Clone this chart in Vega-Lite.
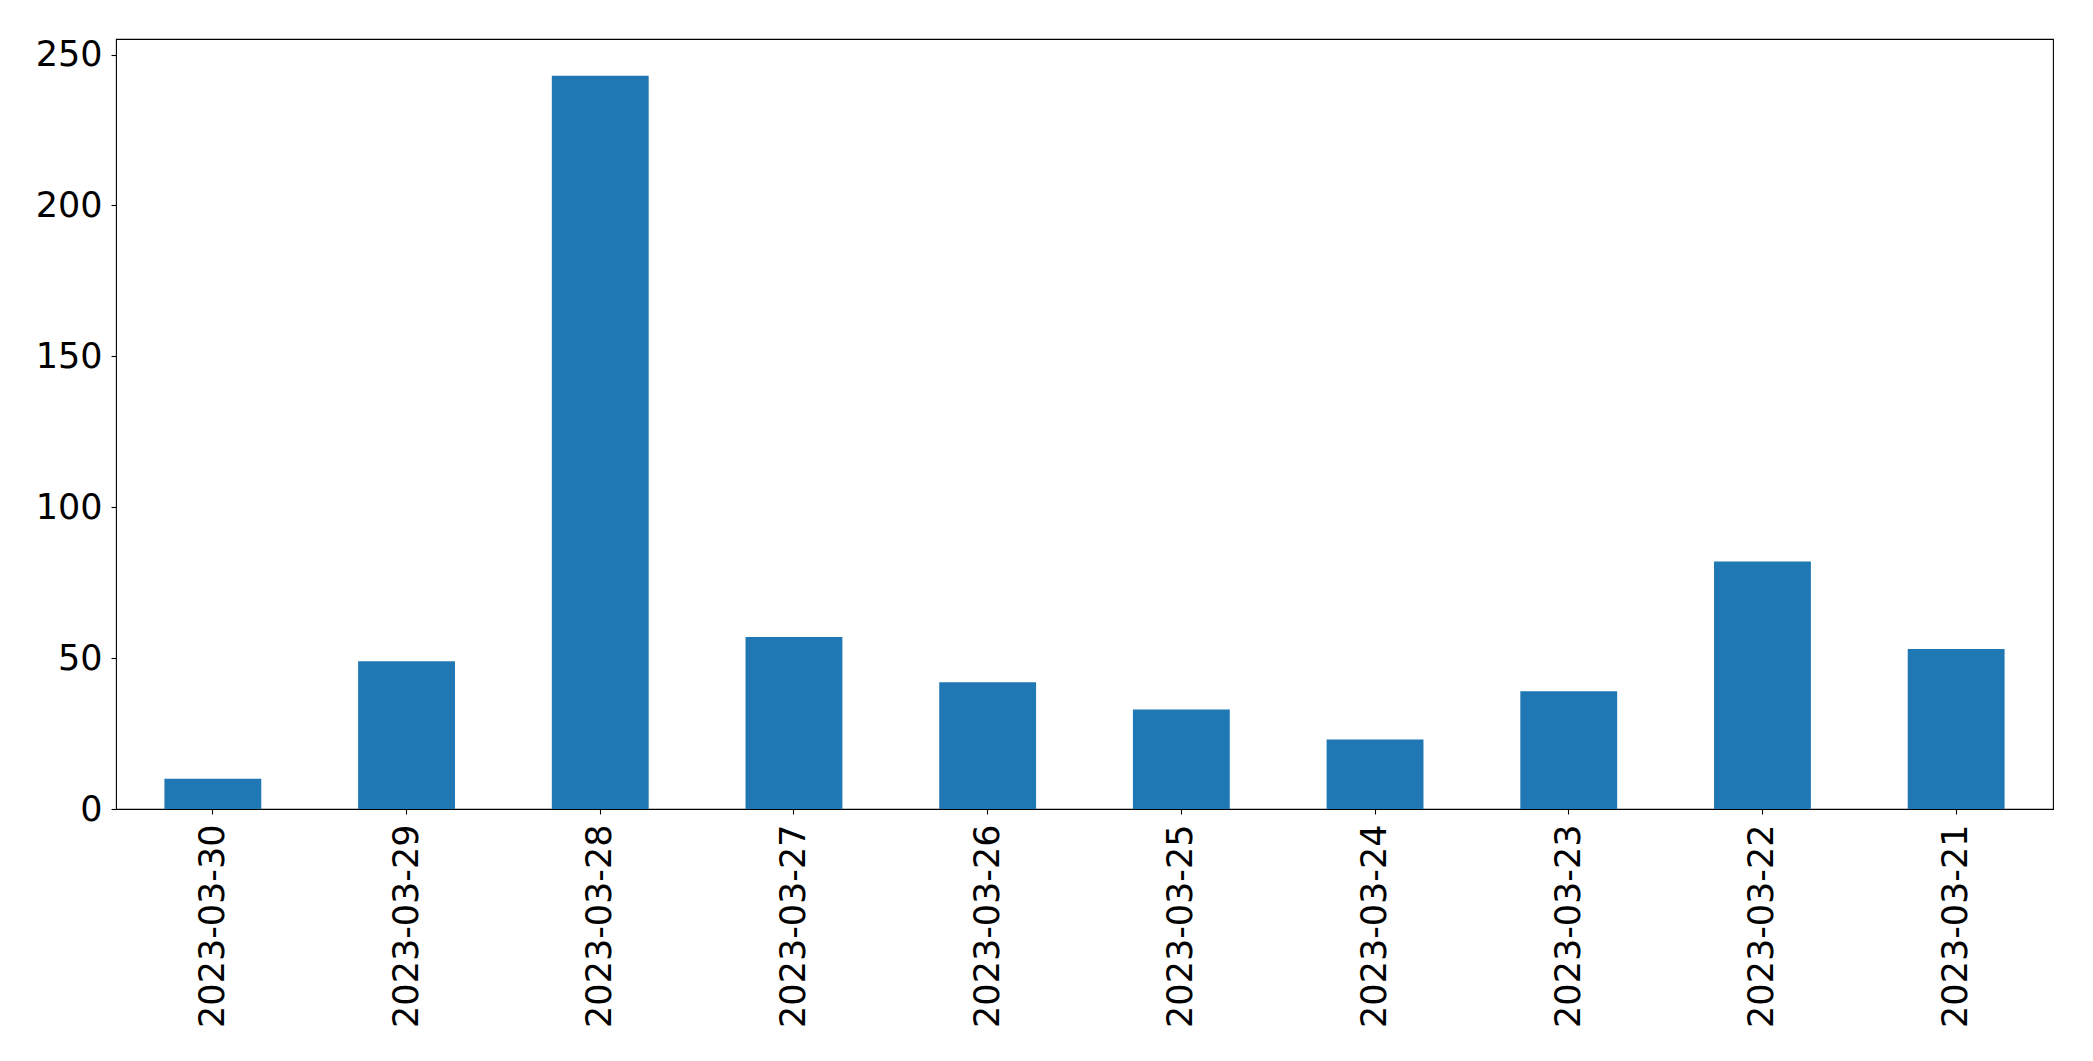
{
  "$schema": "https://vega.github.io/schema/vega-lite/v6.json",
  "width": 1937,
  "height": 770,
  "autosize": {"type": "none"},
  "padding": {"left": 116, "top": 39, "right": 40, "bottom": 252},
  "background": "white",
  "config": {
    "view": {"stroke": "black", "strokeWidth": 1.1},
    "font": "DejaVu Sans"
  },
  "data": {
    "values": [
      {"date": "2023-03-30", "count": 10},
      {"date": "2023-03-29", "count": 49},
      {"date": "2023-03-28", "count": 243},
      {"date": "2023-03-27", "count": 57},
      {"date": "2023-03-26", "count": 42},
      {"date": "2023-03-25", "count": 33},
      {"date": "2023-03-24", "count": 23},
      {"date": "2023-03-23", "count": 39},
      {"date": "2023-03-22", "count": 82},
      {"date": "2023-03-21", "count": 53}
    ]
  },
  "mark": {"type": "bar", "color": "#1f77b4"},
  "encoding": {
    "x": {
      "field": "date",
      "type": "nominal",
      "sort": null,
      "scale": {"paddingInner": 0.5, "paddingOuter": 0.25},
      "axis": {
        "title": null,
        "labelAngle": -90,
        "labelAlign": "right",
        "labelBaseline": "middle",
        "labelFont": "DejaVu Sans",
        "labelFontSize": 35,
        "labelLimit": 0,
        "labelColor": "black",
        "labelPadding": 10,
        "tickSize": 5,
        "tickColor": "black",
        "tickWidth": 1.1,
        "domain": false,
        "grid": false
      }
    },
    "y": {
      "field": "count",
      "type": "quantitative",
      "scale": {"domain": [0, 255.15], "nice": false, "zero": true},
      "axis": {
        "title": null,
        "values": [0, 50, 100, 150, 200, 250],
        "labelFont": "DejaVu Sans",
        "labelFontSize": 35,
        "labelColor": "black",
        "labelPadding": 9,
        "labelBaseline": "middle",
        "tickSize": 5,
        "tickColor": "black",
        "tickWidth": 1.1,
        "domain": false,
        "grid": false
      }
    }
  }
}
